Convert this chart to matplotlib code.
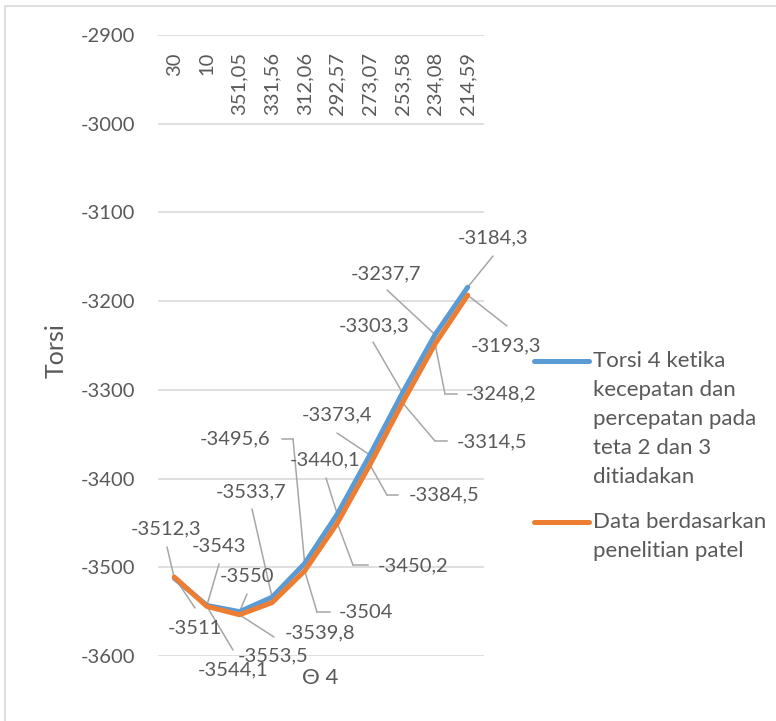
"""Torsi 4 vs theta 4: line chart with data labels (Excel-style)."""

import matplotlib
matplotlib.use("Agg")
import matplotlib.pyplot as plt
from matplotlib.lines import Line2D
from matplotlib.patches import Rectangle
from matplotlib.transforms import blended_transform_factory

# ---- data -------------------------------------------------------------
CATEGORIES = ["30", "10", "351,05", "331,56", "312,06", "292,57",
              "273,07", "253,58", "234,08", "214,59"]
TORSI_BLUE = [-3512.3, -3543, -3550, -3533.7, -3495.6, -3440.1,
              -3373.4, -3303.3, -3237.7, -3184.3]
TORSI_ORANGE = [-3511, -3544.1, -3553.5, -3539.8, -3504, -3450.2,
                -3384.5, -3314.5, -3248.2, -3193.3]
LABEL_BLUE = "Torsi 4 ketika\nkecepatan dan\npercepatan pada\nteta 2 dan 3\nditiadakan"
LABEL_ORANGE = "Data berdasarkan\npenelitian patel"
Y_TICKS = [-3600, -3500, -3400, -3300, -3200, -3100, -3000, -2900]

# ---- layout (image pixels, origin top-left) ---------------------------
W, H = 776, 721
BLUE_C = "#5B9BD5"
ORANGE_C = "#ED7D31"
TXT = "#595959"
GRID = "#d9d9d9"
LEAD = "#a6a6a6"
FONT = ["Lato", "DejaVu Sans"]
FS = 14.5

# label centre, leader knee, optional elbow end
BLUE_LAYOUT = [
    ((166, 529), (167, 547), None),
    ((219, 547), (219, 564), None),
    ((247, 576), (247, 594), None),
    ((251, 492), (252, 509), None),
    ((235, 439), (293, 439), (282, 439)),
    ((325, 460), (326, 478), None),
    ((337, 415), (337, 433), None),
    ((374, 326), (373, 342), None),
    ((386, 274), (387, 290), None),
    ((493, 238), (493, 256), None),
]
ORANGE_LAYOUT = [
    ((195, 628), (195, 608), None),
    ((233, 670), (233, 650), None),
    ((273, 656), (274, 637), None),
    ((320, 633), None, None),
    ((366, 613), (317, 612), (330, 612)),
    ((413, 566), (353, 565), (368, 565)),
    ((444, 495), (387, 495), (398, 495)),
    ((492, 442), (435, 441), (447, 441)),
    ((501, 394), (445, 394), (457, 394)),
    ((506, 346), (507, 326), None),
]


def fp(pt):
    """image pixel -> figure pixel"""
    return (pt[0], H - pt[1])


def fmt(v):
    return f"{v:g}".replace(".", ",")


def main() -> None:
    plt.rcParams["font.family"] = FONT
    fig = plt.figure(figsize=(W / 100, H / 100), dpi=100)
    ax = fig.add_axes([158 / W, 1 - 656 / H, 326 / W, (656 - 35) / H])

    x = list(range(len(CATEGORIES)))
    ax.plot(x, TORSI_BLUE, color=BLUE_C, lw=3.6, solid_capstyle="round",
            solid_joinstyle="round", zorder=3)
    ax.plot(x, TORSI_ORANGE, color=ORANGE_C, lw=3.6, solid_capstyle="round",
            solid_joinstyle="round", zorder=4)

    ax.set_xlim(-0.5, len(CATEGORIES) - 0.5)
    ax.set_ylim(-3600, -2900)
    ax.set_yticks(Y_TICKS)
    ax.set_yticklabels([str(t) for t in Y_TICKS])
    ax.set_xticks([])
    ax.tick_params(axis="y", length=0, pad=16.5, labelsize=FS, labelcolor=TXT)
    for s in ax.spines.values():
        s.set_visible(False)
    ax.grid(axis="y", color=GRID, lw=1.2)
    ax.set_axisbelow(True)

    # category labels hanging below the top axis line
    trans = blended_transform_factory(ax.transData, ax.transAxes)
    top = 1 - (52 - 35) / (656 - 35)
    for i, c in enumerate(CATEGORIES):
        ax.text(i, top, c, rotation=90, ha="center", va="top", fontsize=FS,
                color=TXT, transform=trans)

    # data labels with leader lines
    for values, layout in ((TORSI_BLUE, BLUE_LAYOUT), (TORSI_ORANGE, ORANGE_LAYOUT)):
        for i, (v, (lab, knee, elbow)) in enumerate(zip(values, layout)):
            if knee is not None:
                ax.annotate("", xy=(i, v), xycoords="data", xytext=fp(knee),
                            textcoords="figure pixels",
                            arrowprops=dict(arrowstyle="-", color=LEAD, lw=1.1,
                                            shrinkA=0, shrinkB=0),
                            annotation_clip=False, zorder=2)
            if elbow is not None:
                a, b = fp(knee), fp(elbow)
                fig.add_artist(Line2D([a[0], b[0]], [a[1], b[1]], color=LEAD,
                                      lw=1.1, transform=None))
            lx, ly = fp(lab)
            fig.text(lx / W, ly / H, fmt(v), ha="center", va="center",
                     fontsize=FS, color=TXT, zorder=5)

    # axis titles
    fig.text(56 / W, 1 - 351 / H, "Torsi", rotation=90, ha="center",
             va="center", fontsize=18, color=TXT)
    fig.text(320 / W, 1 - 678 / H, "Θ 4", ha="center", va="center",
             fontsize=16, color=TXT)

    # legend (drawn by hand: handle aligned with first text line)
    for label, color, y0 in ((LABEL_BLUE, BLUE_C, 361), (LABEL_ORANGE, ORANGE_C, 522)):
        a, b = fp((534, y0)), fp((589, y0))
        fig.add_artist(Line2D([a[0], b[0]], [a[1], b[1]], color=color, lw=3.6,
                              solid_capstyle="round", transform=None))
        for k, line in enumerate(label.split("\n")):
            fig.text(593 / W, 1 - (y0 + 29 * k) / H, line, ha="left",
                     va="center", fontsize=16, color=TXT)

    # chart area border
    fig.add_artist(Rectangle((5, -20), 900, H - 6 + 20, fill=False,
                             edgecolor=GRID, lw=1.2, transform=None))

    fig.savefig("out.png", dpi=100)
    plt.close(fig)


if __name__ == "__main__":
    main()
